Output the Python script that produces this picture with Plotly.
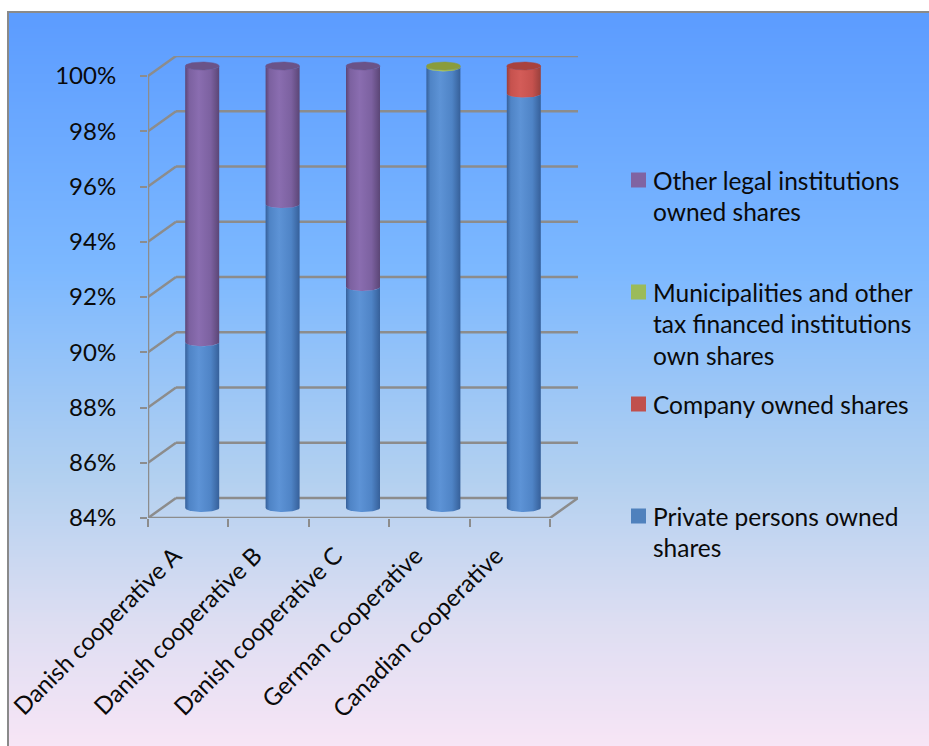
import base64
import struct
import zlib

import numpy as np
import plotly.graph_objects as go

# ---- data -------------------------------------------------------------
categories = [
    "Danish cooperative A",
    "Danish cooperative B",
    "Danish cooperative C",
    "German cooperative",
    "Canadian cooperative",
]
private_shares = [90, 95, 92, 99.95, 99]
company_shares = [0, 0, 0, 0, 1]
municipal_shares = [0, 0, 0, 0.05, 0]
other_legal_shares = [10, 5, 8, 0, 0]

y_ticks = [84, 86, 88, 90, 92, 94, 96, 98, 100]

series_names = [
    "Private persons owned shares",
    "Company owned shares",
    "Municipalities and other tax financed institutions own shares",
    "Other legal institutions owned shares",
]
series_values = [private_shares, company_shares, municipal_shares, other_legal_shares]

# body gradient (edge, highlight, mid, edge) and cap colour per series
series_style = [
    dict(edge="#36609a", light="#5d93d6", mid="#4f84c6", cap="#4a7cbc", key="#4f81bd"),
    dict(edge="#99403c", light="#d35c58", mid="#c6524e", cap="#a8423e", key="#c0504d"),
    dict(edge="#7d9240", light="#a9c466", mid="#9bb759", cap="#8a9c3c", key="#9bbb59"),
    dict(edge="#5b4676", light="#8a6db0", mid="#7c61a0", cap="#6a5388", key="#8064a2"),
]

# ---- geometry of the pseudo-3D plot box ---------------------------------
W_FIG, H_FIG = 929, 746
L, R, T, B = 148, 578, 56, 518          # plot area in pixels
PITCH_X = (550 - L) / len(categories)   # px per category on the front face
PITCH_Y = (B - 76) / 16.0               # px per percentage point
DX = (R - 550) / PITCH_X                # depth offset, x units
DY = (518 - 498) / PITCH_Y              # depth offset, y units
Y0 = y_ticks[0]
Y1 = y_ticks[-1]


def px_to_paper_x(px):
    return (px - L) / (R - L)


def px_to_paper_y(py):
    return (B - py) / (B - T)


# ---- background gradient as an inline PNG --------------------------------
def gradient_png(height, stops):
    pos = [s[0] for s in stops]
    rows = []
    for k in range(height):
        t = k / (height - 1)
        rgb = [int(round(np.interp(t, pos, [s[1][c] for s in stops]))) for c in range(3)]
        rows.append(b"\x00" + bytes(rgb))
    raw = b"".join(rows)

    def chunk(tag, data):
        return (struct.pack(">I", len(data)) + tag + data
                + struct.pack(">I", zlib.crc32(tag + data) & 0xFFFFFFFF))

    png = (b"\x89PNG\r\n\x1a\n"
           + chunk(b"IHDR", struct.pack(">IIBBBBB", 1, height, 8, 2, 0, 0, 0))
           + chunk(b"IDAT", zlib.compress(raw))
           + chunk(b"IEND", b""))
    return "data:image/png;base64," + base64.b64encode(png).decode()


bg_src = gradient_png(400, [
    (0.00, (92, 156, 255)),
    (0.34, (124, 184, 255)),
    (0.62, (178, 208, 240)),
    (0.82, (222, 222, 242)),
    (1.00, (250, 230, 246)),
])

fig = go.Figure()

# ---- cylinders -----------------------------------------------------------
RX = 17 / PITCH_X
RY = 4 / PITCH_Y
t_front = np.linspace(np.pi, 0, 40)
t_full = np.linspace(0, 2 * np.pi, 80)

for i, cat in enumerate(categories):
    cx = i + DX / 2
    base = 0.0
    stack = [(s, vals[i]) for s, vals in enumerate(series_values) if vals[i] > 0]
    for n, (s, val) in enumerate(stack):
        st = series_style[s]
        y_lo = max(base, Y0) + DY / 2
        y_hi = base + val + DY / 2
        xs_bot = cx + RX * np.cos(t_front)
        ys_bot = y_lo - RY * np.sin(t_front)
        xs_top = (cx + RX * np.cos(t_front))[::-1]
        ys_top = (y_hi - RY * np.sin(t_front))[::-1]
        xs = np.concatenate([xs_bot, xs_top, xs_bot[:1]])
        ys = np.concatenate([ys_bot, ys_top, ys_bot[:1]])
        fig.add_trace(go.Scatter(
            x=xs, y=ys, mode="lines", fill="toself",
            line=dict(width=0, color=st["mid"]),
            fillgradient=dict(type="horizontal", colorscale=[
                [0.0, st["edge"]], [0.12, st["mid"]], [0.4, st["light"]],
                [0.75, st["mid"]], [1.0, st["edge"]]]),
            hoverinfo="skip", showlegend=False,
        ))
        if n == len(stack) - 1:
            fig.add_trace(go.Scatter(
                x=cx + RX * np.cos(t_full), y=y_hi + RY * np.sin(t_full),
                mode="lines", fill="toself",
                line=dict(width=0.5, color=st["cap"]), fillcolor=st["cap"],
                hoverinfo="skip", showlegend=False,
            ))
        base += val

# ---- walls, floor and gridlines ------------------------------------------
GRID = "#8c8c8c"
shapes = []
x_front_l, x_front_r = -0.5, len(categories) - 0.5
for v in y_ticks:
    shapes.append(dict(type="line", xref="x", yref="y", x0=x_front_l, y0=v,
                       x1=x_front_l + DX, y1=v + DY, line=dict(color=GRID, width=2.5)))
    shapes.append(dict(type="line", xref="x", yref="y", x0=x_front_l + DX, y0=v + DY,
                       x1=x_front_r + DX, y1=v + DY, line=dict(color=GRID, width=2.5)))
shapes.append(dict(type="line", xref="x", yref="y", x0=x_front_l, y0=Y0,
                   x1=x_front_r, y1=Y0, line=dict(color=GRID, width=2.5)))
shapes.append(dict(type="line", xref="x", yref="y", x0=x_front_r, y0=Y0,
                   x1=x_front_r + DX, y1=Y0 + DY, line=dict(color=GRID, width=2.5)))
shapes.append(dict(type="line", xref="x", yref="y", x0=x_front_l, y0=Y0,
                   x1=x_front_l, y1=Y1, line=dict(color=GRID, width=2.5)))
for s in shapes:
    s["layer"] = "below"

# outer chart frame
shapes.append(dict(type="rect", xref="paper", yref="paper",
                   x0=px_to_paper_x(8), y0=px_to_paper_y(12),
                   x1=px_to_paper_x(940), y1=px_to_paper_y(760),
                   line=dict(color="#8a8a8a", width=2), layer="below"))

# ---- legend (right-hand column) ------------------------------------------
legend_rows = [
    (3, ["Other legal institutions", "owned shares"], 180),
    (2, ["Municipalities and other", "tax financed institutions", "own shares"], 292),
    (1, ["Company owned shares"], 404),
    (0, ["Private persons owned", "shares"], 516),
]
FONT = "Lato, 'Open Sans', sans-serif"
TEXT = "#0a0a0a"
annotations = []
for s, lines, y_first in legend_rows:
    shapes.append(dict(type="rect", xref="paper", yref="paper",
                       x0=px_to_paper_x(631), x1=px_to_paper_x(646),
                       y0=px_to_paper_y(y_first - 7.5), y1=px_to_paper_y(y_first + 7.5),
                       fillcolor=series_style[s]["key"], line=dict(width=0)))
    for k, line in enumerate(lines):
        annotations.append(dict(
            xref="paper", yref="paper", x=px_to_paper_x(651),
            y=px_to_paper_y(y_first + k * 31.5), text=line, showarrow=False,
            xanchor="left", yanchor="middle",
            font=dict(family=FONT, size=24.5, color=TEXT),
        ))

# rotated category labels sit a little left of each category centre
LABEL_SHIFT = 0.17

fig.update_layout(
    width=W_FIG, height=H_FIG,
    margin=dict(l=L, r=W_FIG - R, t=T, b=H_FIG - B, pad=0, autoexpand=False),
    paper_bgcolor="white",
    plot_bgcolor="rgba(0,0,0,0)",
    showlegend=False,
    shapes=shapes,
    annotations=annotations,
    images=[dict(source=bg_src, xref="paper", yref="paper",
                 x=px_to_paper_x(9), y=px_to_paper_y(13),
                 sizex=px_to_paper_x(940) - px_to_paper_x(9),
                 sizey=px_to_paper_y(13) - px_to_paper_y(760),
                 sizing="stretch", xanchor="left", yanchor="top", layer="below")],
    xaxis=dict(
        range=[x_front_l, x_front_r + DX], tickmode="array",
        tickvals=[k - LABEL_SHIFT for k in range(len(categories))], ticktext=categories,
        tickangle=-45, ticks="", showgrid=False, zeroline=False, showline=False,
        tickfont=dict(family=FONT, size=24, color=TEXT),
        ticklabelstandoff=18, automargin=False,
    ),
    xaxis2=dict(
        overlaying="x", anchor="y", side="bottom",
        range=[x_front_l, x_front_r + DX], tickmode="array",
        tickvals=[k - 0.5 for k in range(len(categories) + 1)],
        showticklabels=False, ticks="outside", ticklen=8, tickwidth=2,
        tickcolor=GRID, showgrid=False, zeroline=False, showline=False,
        automargin=False,
    ),
    yaxis=dict(
        range=[Y0, Y1 + DY], tickmode="array", tickvals=y_ticks,
        ticktext=[f"{v}%" for v in y_ticks],
        ticks="outside", ticklen=7, tickwidth=2, tickcolor=GRID,
        showgrid=False, zeroline=False, showline=False,
        tickfont=dict(family=FONT, size=24, color=TEXT),
        ticklabelstandoff=19, automargin=False,
    ),
)

# an empty trace keeps the secondary axis (boundary tick marks) active
fig.add_trace(go.Scatter(x=[None], y=[None], xaxis="x2", yaxis="y",
                         showlegend=False, hoverinfo="skip"))

fig.write_html("out.html")
